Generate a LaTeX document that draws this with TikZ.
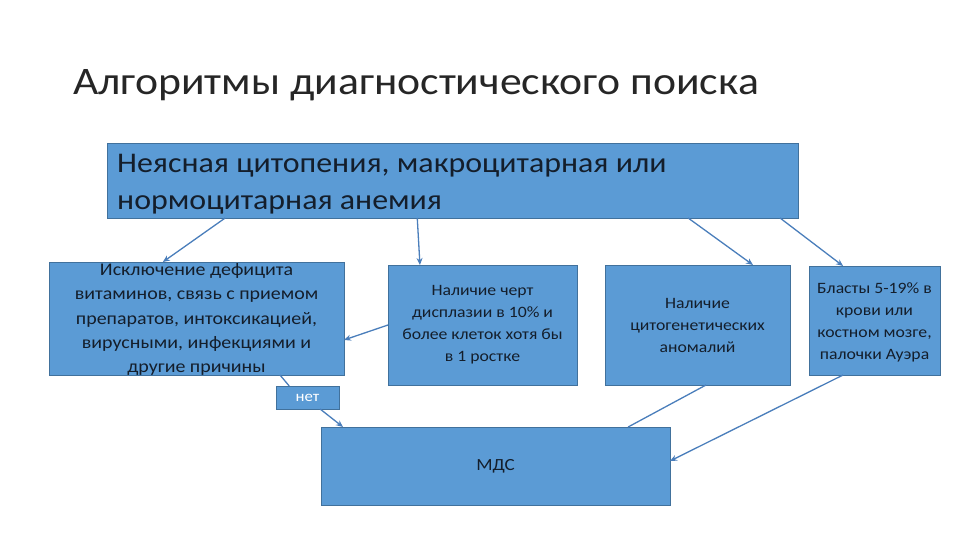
\documentclass[tikz,border=0pt]{standalone}
\usepackage{fontspec}
\setmainfont[FakeStretch=1.12]{Carlito}
\usetikzlibrary{calc,arrows.meta}
\definecolor{boxfill}{HTML}{5B9BD5}
\definecolor{boxline}{HTML}{41719C}
\definecolor{arrowc}{HTML}{4A7EBB}
\definecolor{txt}{HTML}{141E2B}
\definecolor{ttl}{HTML}{262626}
\tikzset{
  box/.style={draw=boxline, fill=boxfill, line width=0.9pt, inner sep=0pt, outer sep=0pt, anchor=north west},
  btext/.style={text=txt, align=center, inner sep=0pt},
  conn/.style={draw=arrowc, line width=1.3pt},
  arr/.style={conn, -{Stealth[length=7pt,width=6pt]}}
}
\begin{document}
\begin{tikzpicture}[x=1pt,y=-1pt]
\useasboundingbox (0,0) rectangle (960,540);
% title
\node[anchor=base west, inner sep=0pt, text=ttl, font=\fontsize{39}{44}\selectfont] (title) at (73,95) {Алгоритмы диагностического поиска};
% top box
\node[box, minimum width=691pt, minimum height=75pt] (top) at (107,143) {};
\node[anchor=north west, inner sep=0pt, text=txt, align=left, font=\fontsize{28.5}{37}\selectfont] (toptext) at (117,154) {Неясная цитопения, макроцитарная или\\нормоцитарная анемия};
% left box
\node[box, minimum width=295pt, minimum height=113pt] (lb) at (49,262) {};
\node[btext, font=\fontsize{17.8}{24.2}\selectfont] (lbt) at ($(lb.center)+(0,1)$) {Исключение дефицита\\витаминов, связь с приемом\\препаратов, интоксикацией,\\вирусными, инфекциями и\\другие причины};
% box 2
\node[box, minimum width=189pt, minimum height=120pt] (b2) at (388,265) {};
\node[btext, font=\fontsize{15.8}{22}\selectfont] (b2t) at (b2.center) {Наличие черт\\дисплазии в 10\% и\\более клеток хотя бы\\в 1 ростке};
% box 3
\node[box, minimum width=185pt, minimum height=120pt] (b3) at (605,265) {};
\node[btext, font=\fontsize{15.8}{22}\selectfont] (b3t) at (b3.center) {Наличие\\цитогенетических\\аномалий};
% box 4
\node[box, minimum width=131pt, minimum height=109pt] (b4) at (809,266) {};
\node[btext, font=\fontsize{15.8}{22}\selectfont] (b4t) at ($(b4.center)+(0,2)$) {Бласты 5-19\% в\\крови или\\костном мозге,\\палочки Ауэра};
% net box
\node[box, minimum width=63pt, minimum height=23pt] (net) at (276,386) {};
\node[btext, text=white, font=\fontsize{15}{16}\selectfont] (nett) at (net.center) {нет};
% MDS box
\node[box, minimum width=349pt, minimum height=78pt] (mds) at (321,427) {};
\node[btext, font=\fontsize{17}{18}\selectfont] (mdst) at (mds.center) {МДС};
% connectors
\draw[arr] ($(top.south west)!0.171!(top.south east)$) -- ($(lb.north west)!0.386!(lb.north east)$);
\draw[arr] ($(top.south west)!0.449!(top.south east)$) -- ($(b2.north west)!0.169!(b2.north east)$);
\draw[arr] ($(top.south west)!0.841!(top.south east)$) -- ($(b3.north west)!0.80!(b3.north east)$);
\draw[arr] ($(top.south west)!0.974!(top.south east)$) -- ($(b4.north west)!0.26!(b4.north east)$);
\draw[arr] (b2.west) -- ($(lb.north east)!0.69!(lb.south east)$);
\draw[conn] ($(lb.south west)!0.783!(lb.south east)$) -- ($(net.north west)!0.21!(net.north east)$);
\draw[arr] ($(net.south west)!0.70!(net.south east)$) -- ($(mds.north west)!0.063!(mds.north east)$);
\draw[conn] ($(b3.south west)!0.546!(b3.south east)$) -- ($(mds.north west)!0.88!(mds.north east)$);
\draw[arr] ($(b4.south west)!0.26!(b4.south east)$) -- ($(mds.north east)!0.436!(mds.south east)$);
\end{tikzpicture}
\end{document}
